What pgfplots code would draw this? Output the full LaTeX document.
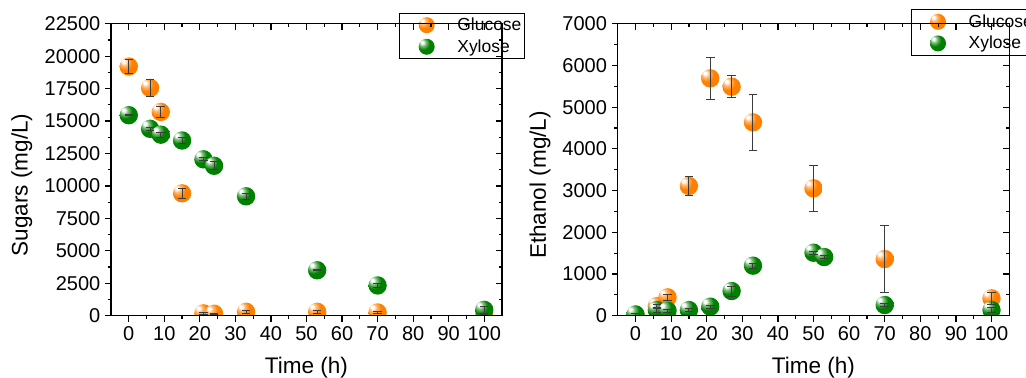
\documentclass[border=0pt]{standalone}
\usepackage{pgfplots}
\pgfplotsset{compat=1.18}
\usepackage{pgfplotstable}
\usepackage{fontspec}
\setmainfont{Liberation Sans}
\usetikzlibrary{plotmarks}

\definecolor{ofill}{RGB}{255,128,0}
\definecolor{gfill}{RGB}{0,128,0}
\definecolor{ebar}{RGB}{60,60,60}
\pgfdeclareradialshading{oshade}{\pgfpoint{-15bp}{15bp}}{color(0bp)=(white); color(4bp)=(white); color(10bp)=(ofill!55!white); color(20bp)=(ofill); color(48bp)=(ofill); color(70bp)=(ofill!85!black)}
\pgfdeclareradialshading{gshade}{\pgfpoint{-15bp}{15bp}}{color(0bp)=(white); color(4bp)=(white); color(10bp)=(gfill!50!white); color(20bp)=(gfill); color(48bp)=(gfill); color(70bp)=(gfill!85!black)}
\pgfdeclareplotmark{oball}{\pgfpathcircle{\pgfpointorigin}{\pgfplotmarksize}\pgfshadepath{oshade}{0}\pgfusepath{}}
\pgfdeclareplotmark{gball}{\pgfpathcircle{\pgfpointorigin}{\pgfplotmarksize}\pgfshadepath{gshade}{0}\pgfusepath{}}
\pgfdeclareplotmark{nothing}{\pgfpathcircle{\pgfpointorigin}{0.01pt}\pgfusepath{}}

\pgfplotstableread{
x y e
0 19200 550
6 17550 670
9 15700 410
15 9430 385
21 180 60
24 150 50
33 300 120
53 300 120
70 250 100
100 50 50
}\sugglu
\pgfplotstableread{
x y e
0 15450 60
6 14400 100
9 13950 200
15 13500 250
21 12050 120
24 11550 300
33 9200 250
53 3500 50
70 2330 150
100 450 250
}\sugxyl
\pgfplotstableread{
x y e
0 0 0
6 230 50
9 440 70
15 3110 225
21 5690 510
27 5490 265
33 4635 663
50 3053 547
70 1358 795
100 416 150
}\ethglu
\pgfplotstableread{
x y e
0 30 20
6 136 60
9 120 40
15 135 40
21 216 40
27 591 120
33 1199 60
50 1510 40
53 1406 40
70 256 30
100 136 60
}\ethxyl

\pgfplotsset{
  common/.style={
    scale only axis,
    height=219pt,
    xmin=-5, xmax=105,
    ymin=0,
    axis line style={line width=1.1pt},
    every tick/.style={black, line width=0.9pt},
    major tick length=4.5pt,
    minor tick length=2.6pt,
    xtick={0,10,...,100},
    minor x tick num=1,
    minor y tick num=1,
    tick label style={font=\fontsize{15}{18}\selectfont},
    /pgf/number format/assume math mode=true,
    /pgf/number format/1000 sep={},
    scaled y ticks=false,
    label style={font=\fontsize{16.9}{20}\selectfont},
  },
  mainax/.style={
    common,
    clip marker paths=true,
    xtick pos=left, ytick pos=left,
    tick align=outside,
    xlabel={Time (h)},
    xlabel style={at={(axis description cs:0.5,-0.179)}, anchor=center},
    legend cell align=left,
    legend image code/.code={\path (0pt,0pt); \draw[##1, mark size=6pt] plot coordinates {(19.6pt,0pt)};},
    legend style={draw=black, line width=0.75pt, font=\fontsize{13.1}{15}\selectfont,
      inner xsep=0.2pt, inner ysep=1.5pt, row sep=1.2pt},
  },
  overax/.style={
    common,
    xtick pos=right, ytick pos=right,
    tick align=inside,
    xticklabels={}, yticklabels={},
  },
  gluplot/.style={only marks, mark=oball, mark size=6.9pt},
  xylplot/.style={only marks, mark=gball, mark size=6.9pt},
  ebplot/.style={forget plot, only marks, mark=nothing,
    error bars/.cd, y dir=both, y explicit,
    error bar style={draw=ebar, line width=0.75pt},
    error mark options={rotate=90, draw=ebar, mark size=3.2pt, line width=0.75pt}},
}

\begin{document}
\begin{tikzpicture}
\useasboundingbox (0pt,0pt) rectangle (769.5pt,283.5pt);
\clip (0pt,0pt) rectangle (769.5pt,283.5pt);

% Left: sugars
\begin{axis}[mainax, at={(83.25pt,46.725pt)}, anchor=south west, width=293.25pt,
  ymax=22500, ytick={0,2500,...,22500},
  ylabel={Sugars (mg/L)},
  ylabel style={at={(axis description cs:-0.2284,0.4476)}, anchor=center},
  legend style={at={(axis description cs:0.7373,1.0377)}, anchor=north west}]
\addplot[gluplot] table[x=x,y=y] {\sugglu};
\addlegendentry{\hspace*{15pt}Glucose}
\addplot[xylplot] table[x=x,y=y] {\sugxyl};
\addlegendentry{\hspace*{15pt}Xylose}
\addplot[ebplot] table[x=x,y=y,y error=e] {\sugglu};
\addplot[ebplot] table[x=x,y=y,y error=e] {\sugxyl};
\end{axis}
\begin{axis}[overax, at={(83.25pt,46.725pt)}, anchor=south west, width=293.25pt,
  ymax=22500, ytick={0,2500,...,22500}]
\end{axis}

% Right: ethanol
\begin{axis}[mainax, at={(463.275pt,46.725pt)}, anchor=south west, width=293.7pt,
  ymax=7000, ytick={0,1000,...,7000},
  ylabel={Ethanol (mg/L)},
  ylabel style={at={(axis description cs:-0.1984,0.4476)}, anchor=center},
  legend style={at={(axis description cs:0.7480,1.0492)}, anchor=north west}]
\addplot[gluplot] table[x=x,y=y] {\ethglu};
\addlegendentry{\hspace*{15pt}Glucose}
\addplot[xylplot] table[x=x,y=y] {\ethxyl};
\addlegendentry{\hspace*{15pt}Xylose}
\addplot[ebplot] table[x=x,y=y,y error=e] {\ethglu};
\addplot[ebplot] table[x=x,y=y,y error=e] {\ethxyl};
\end{axis}
\begin{axis}[overax, at={(463.275pt,46.725pt)}, anchor=south west, width=293.7pt,
  ymax=7000, ytick={0,1000,...,7000}]
\end{axis}
\end{tikzpicture}
\end{document}
